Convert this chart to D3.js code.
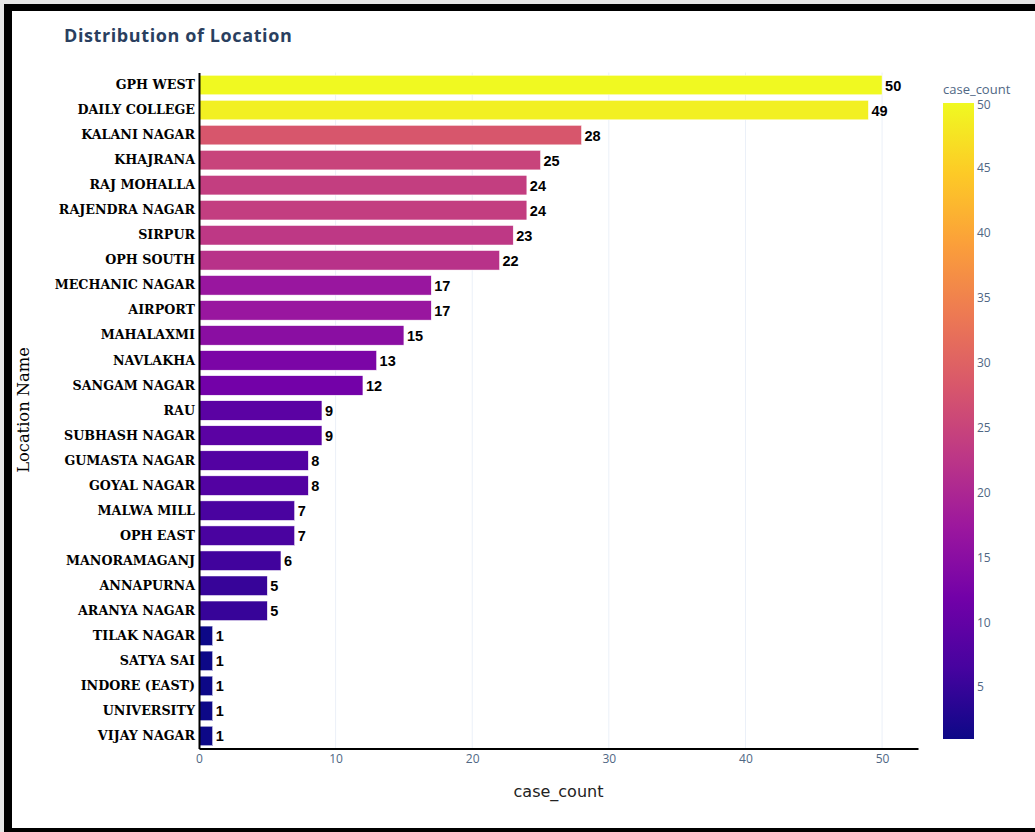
<!DOCTYPE html>
<html>
<head>
<meta charset="utf-8">
<script src="https://cdn.jsdelivr.net/npm/d3@7"></script>
<style>
  html, body { margin: 0; padding: 0; background: #fff; }
  svg { display: block; }
</style>
</head>
<body>
<svg id="chart" width="1035" height="832"></svg>
<script>
// Case counts per location, largest first
const locations = [
  "GPH WEST", "DAILY COLLEGE", "KALANI NAGAR", "KHAJRANA", "RAJ MOHALLA",
  "RAJENDRA NAGAR", "SIRPUR", "OPH SOUTH", "MECHANIC NAGAR", "AIRPORT",
  "MAHALAXMI", "NAVLAKHA", "SANGAM NAGAR", "RAU", "SUBHASH NAGAR",
  "GUMASTA NAGAR", "GOYAL NAGAR", "MALWA MILL", "OPH EAST", "MANORAMAGANJ",
  "ANNAPURNA", "ARANYA NAGAR", "TILAK NAGAR", "SATYA SAI", "INDORE (EAST)",
  "UNIVERSITY", "VIJAY NAGAR"
];
const caseCounts = [
  50, 49, 28, 25, 24,
  24, 23, 22, 17, 17,
  15, 13, 12, 9, 9,
  8, 8, 7, 7, 6,
  5, 5, 1, 1, 1,
  1, 1
];
const xTicks = [0, 10, 20, 30, 40, 50];
const colorTicks = [5, 10, 15, 20, 25, 30, 35, 40, 45, 50];
const plasmaStops = ["#0d0887", "#46039f", "#7201a8", "#9c179e", "#bd3786",
                     "#d8576b", "#ed7953", "#fb9f3a", "#fdca26", "#f0f921"];

const svg = d3.select("#chart");
const W = 1035, H = 832;

// Frame
svg.append("rect").attr("x", 0).attr("y", 0).attr("width", W).attr("height", H).attr("fill", "#e6e6e6");
svg.append("rect").attr("x", 4).attr("y", 4).attr("width", W - 4).attr("height", H - 4).attr("fill", "#000");
svg.append("rect").attr("x", 12).attr("y", 11).attr("width", W - 12).attr("height", 817).attr("fill", "#fff");

const data = locations.map((name, i) => ({ name, value: caseCounts[i] }));

const plot = { left: 199, right: 918, top: 72.5, bottom: 748.5 };

const x = d3.scaleLinear().domain([0, 52.63]).range([plot.left, plot.right]);
const y = d3.scaleBand().domain(locations).range([plot.top, plot.bottom]).paddingInner(0.22).paddingOuter(0.11);

const cmin = d3.min(caseCounts), cmax = d3.max(caseCounts);
const color = d3.scaleLinear()
  .domain(plasmaStops.map((_, i) => cmin + (cmax - cmin) * i / (plasmaStops.length - 1)))
  .range(plasmaStops)
  .interpolate(d3.interpolateRgb);

// Title
svg.append("text")
  .attr("x", 64).attr("y", 42)
  .attr("font-family", "'Open Sans', sans-serif")
  .attr("font-weight", "bold").attr("font-size", 18)
  .attr("letter-spacing", "0.6px")
  .attr("fill", "#2a3f5f")
  .text("Distribution of Location");

// Vertical grid lines
svg.append("g")
  .selectAll("line")
  .data(xTicks.filter(t => t > 0))
  .join("line")
  .attr("x1", d => x(d)).attr("x2", d => x(d))
  .attr("y1", plot.top).attr("y2", plot.bottom)
  .attr("stroke", "#ebf0f8").attr("stroke-width", 1);

// Bars
svg.append("g")
  .selectAll("rect")
  .data(data)
  .join("rect")
  .attr("x", x(0))
  .attr("y", d => y(d.name))
  .attr("width", d => x(d.value) - x(0))
  .attr("height", y.bandwidth())
  .attr("fill", d => color(d.value))
  .attr("stroke", "#ffffff").attr("stroke-width", 0.5);

// Value labels
svg.append("g")
  .selectAll("text")
  .data(data)
  .join("text")
  .attr("x", d => x(d.value) + 3)
  .attr("y", d => y(d.name) + y.bandwidth() / 2)
  .attr("dy", "0.38em")
  .attr("font-family", "'Liberation Sans', Arial, sans-serif")
  .attr("font-weight", "bold").attr("font-size", 14.5)
  .attr("fill", "#000")
  .text(d => d.value);

// X axis
const xAxis = svg.append("g")
  .attr("transform", `translate(0,${plot.bottom})`)
  .call(d3.axisBottom(x).tickValues(xTicks).tickSize(0).tickPadding(6));
xAxis.select(".domain").attr("stroke", "#000").attr("stroke-width", 2);
xAxis.selectAll("text")
  .attr("font-family", "'Open Sans', sans-serif").attr("font-size", 12)
  .attr("fill", "#506784");

// Y axis
const yAxis = svg.append("g")
  .attr("transform", `translate(${plot.left},0)`)
  .call(d3.axisLeft(y).tickSize(0).tickPadding(4));
yAxis.select(".domain").attr("stroke", "#000").attr("stroke-width", 2);
yAxis.selectAll("text")
  .attr("font-family", "'DejaVu Serif', serif").attr("font-weight", "bold")
  .attr("font-size", 12.7).attr("fill", "#000");

// Axis titles
svg.append("text")
  .attr("x", (plot.left + plot.right) / 2).attr("y", 797)
  .attr("text-anchor", "middle")
  .attr("font-family", "'DejaVu Sans', sans-serif").attr("font-size", 16)
  .attr("fill", "#222")
  .text("case_count");

svg.append("text")
  .attr("transform", `translate(29,410) rotate(-90)`)
  .attr("text-anchor", "middle")
  .attr("font-family", "'DejaVu Serif', serif").attr("font-size", 16.3)
  .attr("fill", "#000")
  .text("Location Name");

// Colour bar
const cb = { x: 943, w: 31, top: 103, bottom: 739 };
const cy = d3.scaleLinear().domain([cmin, cmax]).range([cb.bottom, cb.top]);
const grad = svg.append("defs").append("linearGradient")
  .attr("id", "cbGrad").attr("x1", 0).attr("y1", 1).attr("x2", 0).attr("y2", 0);
grad.selectAll("stop")
  .data(plasmaStops)
  .join("stop")
  .attr("offset", (_, i) => i / (plasmaStops.length - 1))
  .attr("stop-color", d => d);
svg.append("rect")
  .attr("x", cb.x).attr("y", cb.top)
  .attr("width", cb.w).attr("height", cb.bottom - cb.top)
  .attr("fill", "url(#cbGrad)");

svg.append("g")
  .selectAll("text")
  .data(colorTicks)
  .join("text")
  .attr("x", cb.x + cb.w + 3)
  .attr("y", d => cy(d) + (d === cmax ? 2 : 0))
  .attr("dy", "0.36em")
  .attr("font-family", "'Open Sans', sans-serif").attr("font-size", 12)
  .attr("fill", "#506784")
  .text(d => d);

svg.append("text")
  .attr("x", cb.x).attr("y", 94)
  .attr("font-family", "'Open Sans', sans-serif").attr("font-size", 13)
  .attr("fill", "#506784")
  .text("case_count");
</script>
</body>
</html>
